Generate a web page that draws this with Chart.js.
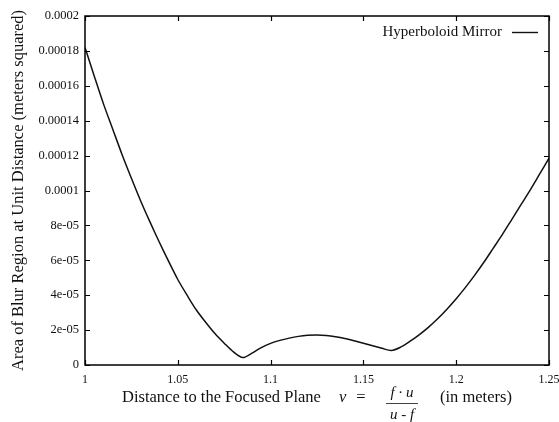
<!DOCTYPE html>
<html>
<head>
<meta charset="utf-8">
<script src="https://cdn.jsdelivr.net/npm/chart.js@4/dist/chart.umd.min.js"></script>
<style>
  html, body { margin: 0; padding: 0; background: #ffffff; }
  #wrap { width: 559px; height: 422px; position: relative; }
</style>
</head>
<body>
<div id="wrap"><canvas id="c" width="559" height="422"></canvas></div>
<script>
// ---- data ----
const seriesLabel = "Hyperboloid Mirror";
const xValues = [
  1.000, 1.005, 1.010, 1.015, 1.020, 1.025, 1.030, 1.035, 1.040, 1.045,
  1.050, 1.055, 1.060, 1.065, 1.070, 1.075, 1.080, 1.085, 1.090, 1.095,
  1.100, 1.105, 1.110, 1.115, 1.120, 1.125, 1.130, 1.135, 1.140, 1.145,
  1.150, 1.155, 1.160, 1.165, 1.170, 1.175, 1.180, 1.185, 1.190, 1.195,
  1.200, 1.205, 1.210, 1.215, 1.220, 1.225, 1.230, 1.235, 1.240, 1.245, 1.250
];
const blurArea = [
  0.0001820, 0.0001655, 0.0001495, 0.0001350, 0.0001205, 0.0001070, 0.0000940, 0.0000820, 0.0000705, 0.0000595,
  0.0000490, 0.0000400, 0.0000315, 0.0000245, 0.0000180, 0.0000125, 0.0000075, 0.0000043, 0.0000068, 0.0000100,
  0.0000124, 0.0000141, 0.0000154, 0.0000164, 0.0000170, 0.0000172, 0.0000169, 0.0000162, 0.0000152, 0.0000139,
  0.0000125, 0.0000110, 0.0000096, 0.0000083, 0.0000102, 0.0000135, 0.0000173, 0.0000216, 0.0000265, 0.0000320,
  0.0000380, 0.0000445, 0.0000515, 0.0000590, 0.0000670, 0.0000750, 0.0000835, 0.0000920, 0.0001005, 0.0001095, 0.0001185
];
const xTickValues = [1, 1.05, 1.1, 1.15, 1.2, 1.25];
const xTickLabels = ["1", "1.05", "1.1", "1.15", "1.2", "1.25"];
const yTickValues = [0, 0.00002, 0.00004, 0.00006, 0.00008, 0.0001, 0.00012, 0.00014, 0.00016, 0.00018, 0.0002];
const yTickLabels = ["0", "2e-05", "4e-05", "6e-05", "8e-05", "0.0001", "0.00012", "0.00014", "0.00016", "0.00018", "0.0002"];
const yTitle = "Area of Blur Region at Unit Distance (meters squared)";
const xTitleMain = "Distance to the Focused Plane";
const xTitleVar = "v";
const xTitleNum = "f \u00b7 u";
const xTitleDen = "u - f";
const xTitleUnit = "(in meters)";

const SERIF = "'Liberation Serif', 'DejaVu Serif', serif";

const points = xValues.map((x, i) => ({ x: x, y: blurArea[i] }));

const framePlugin = {
  id: 'frame',
  afterDraw(chart) {
    const ctx = chart.ctx;
    const a = chart.chartArea;
    const xs = chart.scales.x, ys = chart.scales.y;
    ctx.save();
    ctx.strokeStyle = '#000';
    ctx.lineWidth = 1.2;
    // inward ticks on all four sides
    ctx.beginPath();
    xTickValues.forEach(v => {
      const px = Math.round(xs.getPixelForValue(v)) + 0.5;
      ctx.moveTo(px, a.bottom); ctx.lineTo(px, a.bottom - 5);
      ctx.moveTo(px, a.top); ctx.lineTo(px, a.top + 5);
    });
    yTickValues.forEach(v => {
      const py = Math.round(ys.getPixelForValue(v)) + 0.5;
      ctx.moveTo(a.left, py); ctx.lineTo(a.left + 5, py);
      ctx.moveTo(a.right, py); ctx.lineTo(a.right - 5, py);
    });
    ctx.stroke();
    // border
    ctx.lineWidth = 1.5;
    ctx.strokeRect(a.left, a.top, a.right - a.left, a.bottom - a.top);

    // legend (inside top-right)
    ctx.fillStyle = '#111';
    ctx.font = "15px " + SERIF;
    ctx.textAlign = 'right';
    ctx.textBaseline = 'alphabetic';
    ctx.fillText(chart.data.datasets[0].label, 502, 36);
    ctx.lineWidth = 1.4;
    ctx.strokeStyle = '#111';
    ctx.beginPath();
    ctx.moveTo(512, 32.5); ctx.lineTo(538, 32.5);
    ctx.stroke();

    // x-axis title with formula
    ctx.textAlign = 'left';
    ctx.font = "16.5px " + SERIF;
    ctx.fillText(xTitleMain, 122, 402);
    ctx.font = "italic 16.5px " + SERIF;
    ctx.fillText(xTitleVar, 339, 402);
    ctx.font = "16.5px " + SERIF;
    ctx.textAlign = 'center';
    ctx.fillText("=", 361, 402);
    ctx.font = "italic 15px " + SERIF;
    ctx.fillText(xTitleNum, 402, 397);
    ctx.fillText(xTitleDen, 402, 419);
    ctx.lineWidth = 0.8;
    ctx.beginPath();
    ctx.moveTo(386, 403.5); ctx.lineTo(418, 403.5);
    ctx.stroke();
    ctx.font = "16.5px " + SERIF;
    ctx.textAlign = 'left';
    ctx.fillText(xTitleUnit, 440, 402);
    ctx.restore();
  }
};

const bgPlugin = {
  id: 'bg',
  beforeDraw(chart) {
    const ctx = chart.ctx;
    ctx.save();
    ctx.fillStyle = '#fff';
    ctx.fillRect(0, 0, chart.width, chart.height);
    ctx.restore();
  }
};

new Chart(document.getElementById('c'), {
  type: 'line',
  data: {
    datasets: [{
      label: seriesLabel,
      data: points,
      borderColor: '#111',
      borderWidth: 1.5,
      pointRadius: 0,
      fill: false,
      tension: 0.3
    }]
  },
  options: {
    responsive: false,
    animation: false,
    devicePixelRatio: 1,
    layout: { padding: { left: 0, right: 10, top: 16, bottom: 0 } },
    plugins: {
      legend: { display: false },
      tooltip: { enabled: false }
    },
    scales: {
      x: {
        type: 'linear',
        min: 1, max: 1.25,
        afterBuildTicks(scale) { scale.ticks = xTickValues.map(v => ({ value: v })); },
        afterFit(scale) { scale.height = 57; scale.paddingLeft = 0; scale.paddingRight = 0; },
        grid: { display: false, drawTicks: false },
        border: { display: false },
        ticks: {
          padding: 8,
          color: '#111',
          font: { family: SERIF, size: 12 },
          maxRotation: 0,
          autoSkip: false,
          callback: (v, i) => xTickLabels[i]
        }
      },
      y: {
        type: 'linear',
        min: 0, max: 0.0002,
        afterBuildTicks(scale) { scale.ticks = yTickValues.map(v => ({ value: v })); },
        afterFit(scale) { scale.width = 85; scale.paddingTop = 0; scale.paddingBottom = 0; },
        grid: { display: false, drawTicks: false },
        border: { display: false },
        title: {
          display: true,
          text: yTitle,
          color: '#111',
          font: { family: SERIF, size: 16.5 },
          padding: { top: 9, bottom: 0 }
        },
        ticks: {
          padding: 6,
          color: '#111',
          font: { family: SERIF, size: 12.5 },
          autoSkip: false,
          callback: (v, i) => yTickLabels[i]
        }
      }
    }
  },
  plugins: [bgPlugin, framePlugin]
});
</script>
</body>
</html>
